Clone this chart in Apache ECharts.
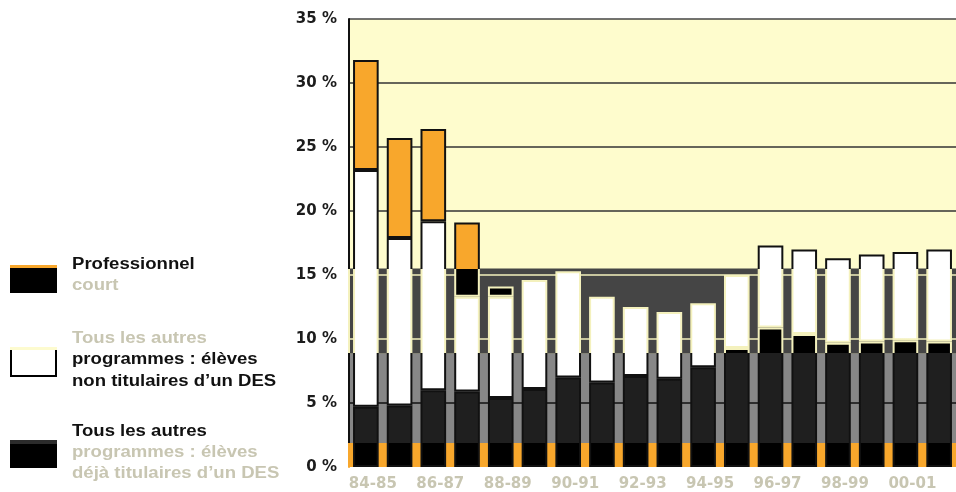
<!DOCTYPE html>
<html><head><meta charset="utf-8">
<script src="https://cdn.jsdelivr.net/npm/echarts@6/dist/echarts.min.js"></script>
<style>html,body{margin:0;padding:0;background:#fff}#c{width:956px;height:492px}</style>
</head><body><div id="c"></div>
<script>
// ---- data ----
const years = ['84-85','85-86','86-87','87-88','88-89','89-90','90-91','91-92','92-93','93-94','94-95','95-96','96-97','97-98','98-99','99-00','00-01','01-02'];
const dejaTitulaires = [4.7,4.8,6.0,5.9,5.4,6.1,7.0,6.6,7.1,6.9,7.8,9.3,10.9,10.4,9.7,9.8,9.9,9.8];
const nonTitulaires  = [18.5,13.1,13.2,7.4,7.9,8.5,8.3,6.7,5.4,5.2,5.0,5.7,6.4,6.6,6.6,6.8,6.9,7.2];
const professionnelCourt = [8.6,7.8,7.2,5.8,0.8,0,0,0,0,0,0,0,0,0,0,0,0,0];
const yMin = 0, yMax = 35, yStep = 5;
const fadedTicks = [0,10,15];
// background band limits (in % units) seen in the picture
const bandLow = 1.87, bandMid = 8.87, bandHigh = 15.5;

const ORANGE = '#f8a72c', YELLOW = '#fefccd', DARK = '#454545', GRAY = '#878787', FADED = '#c8c6b2';
const FONT = '"Liberation Sans", Arial, sans-serif';
const AXFONT = '"DejaVu Sans", sans-serif';

const chart = echarts.init(document.getElementById('c'), null, {renderer:'canvas'});

function baseOption(fills) {
  return {
    backgroundColor: '#ffffff',
    animation: false,
    grid: {left: 349, top: 19, width: 619, height: 450, show: true, backgroundColor: YELLOW, borderWidth: 0},
    xAxis: {
      type: 'category', data: years,
      axisLine: {show: false}, axisTick: {show: false},
      axisLabel: {interval: 1, margin: 10, padding: [0,0,0,14], color: FADED, fontWeight: 'bold', fontSize: 15, fontFamily: AXFONT}
    },
    yAxis: {
      type: 'value', min: yMin, max: yMax, interval: yStep, z: 1.5,
      axisLine: {show: true, lineStyle: {color: fills ? fills.axis : '#111', width: 2}},
      axisTick: {show: false},
      axisLabel: {margin: 12, fontWeight: 'bold', fontSize: 15, fontFamily: AXFONT,
        formatter: v => v + ' %',
        color: v => fadedTicks.indexOf(v) >= 0 ? FADED : '#1c1c1c'},
      splitLine: {show: true, lineStyle: {width: 1.5,
        color: ['rgba(0,0,0,0)', '#111', '#f3f0bc', '#f3f0bc', '#333', '#333', '#333', '#444']}}
    },
    series: [
      {name: 'Tous les autres programmes : élèves déjà titulaires d\'un DES', type: 'bar', stack: 's',
       barCategoryGap: '24%', data: dejaTitulaires,
       itemStyle: {color: fills ? fills.black : '#000', borderColor: fills ? fills.border : '#111', borderWidth: 2},
       markArea: {silent: true, z: 1, itemStyle: {borderWidth: 0}, data: [
         [{yAxis: yMin, itemStyle: {color: ORANGE}}, {yAxis: bandLow}],
         [{yAxis: bandLow, itemStyle: {color: GRAY}}, {yAxis: bandMid}],
         [{yAxis: bandMid, itemStyle: {color: DARK}}, {yAxis: bandHigh}]
       ]}},
      {name: 'Tous les autres programmes : élèves non titulaires d\'un DES', type: 'bar', stack: 's',
       data: nonTitulaires,
       itemStyle: {color: '#ffffff', borderColor: fills ? fills.border : '#111', borderWidth: 2}},
      {name: 'Professionnel court', type: 'bar', stack: 's',
       data: professionnelCourt.map(v => v || null),
       itemStyle: {color: fills ? fills.orange : ORANGE, borderColor: fills ? fills.border : '#111', borderWidth: 2}}
    ],
    graphic: legendGraphics()
  };
}

function legendGraphics() {
  const t = (y, text, color) => ({type: 'text', x: 72, y: y, scaleX: 1.16, scaleY: 1.0,
    style: {text: text, fill: color, font: 'bold 16px ' + FONT, verticalAlign: 'top', align: 'left'}});
  return [
    {type: 'rect', shape: {x: 10, y: 265, width: 47, height: 28}, style: {fill: '#000'}},
    {type: 'rect', shape: {x: 10, y: 265, width: 47, height: 3}, style: {fill: ORANGE}},
    {type: 'rect', shape: {x: 11, y: 349, width: 45, height: 27}, style: {fill: '#fff', stroke: '#000', lineWidth: 2}},
    {type: 'rect', shape: {x: 10, y: 347, width: 47, height: 3}, style: {fill: '#fdfbcf'}},
    {type: 'rect', shape: {x: 10, y: 440, width: 47, height: 28}, style: {fill: '#000'}},
    {type: 'rect', shape: {x: 10, y: 440, width: 47, height: 4}, style: {fill: '#2b2b2b'}},
    t(257, 'Professionnel', '#111'),
    t(278, 'court', FADED),
    t(331, 'Tous les autres', FADED),
    t(352, 'programmes : élèves', '#111'),
    t(374, 'non titulaires d\u2019un DES', '#111'),
    t(424, 'Tous les autres', '#111'),
    t(445, 'programmes : élèves', FADED),
    t(466, 'déjà titulaires d\u2019un DES', FADED)
  ];
}

chart.setOption(baseOption(null));

// vertical hard-edged gradients positioned through the y-axis scale
function px(v) { return chart.convertToPixel({yAxisIndex: 0}, v); }
function grad(segs) {
  const H = chart.getHeight();
  const cs = [];
  segs.forEach(([lo, hi, c]) => {
    const yTop = hi === Infinity ? 0 : px(hi);
    const yBot = lo === -Infinity ? H : px(lo);
    cs.push({offset: Math.max(0, Math.min(1, yTop / H)), color: c});
    cs.push({offset: Math.max(0, Math.min(1, yBot / H)), color: c});
  });
  return {type: 'linear', x: 0, y: 0, x2: 0, y2: H, global: true, colorStops: cs};
}
const fills = {
  black: grad([[bandMid, Infinity, '#000'], [bandLow, bandMid, '#1f1f1f'], [-Infinity, bandLow, '#000']]),
  orange: grad([[bandHigh, Infinity, ORANGE], [-Infinity, bandHigh, '#000']]),
  border: grad([[bandHigh, Infinity, '#111'], [bandMid, bandHigh, '#f4f1bd'], [-Infinity, bandMid, '#111']]),
  axis: grad([[bandHigh, Infinity, '#111'], [bandMid, bandHigh, '#f4f1bd'], [bandLow, bandMid, '#111'], [-Infinity, bandLow, ORANGE]])
};
chart.setOption(baseOption(fills), true);
</script>
</body></html>
